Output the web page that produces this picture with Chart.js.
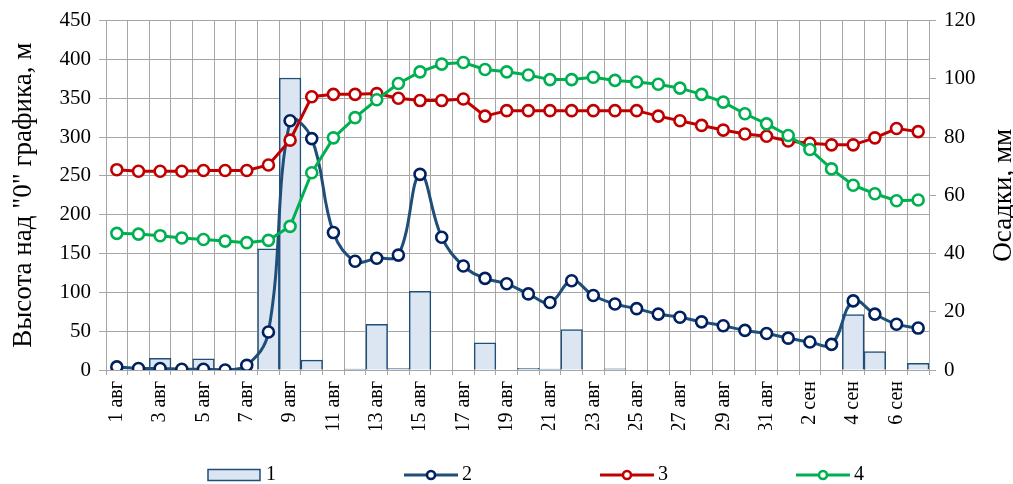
<!DOCTYPE html>
<html lang="ru">
<head>
<meta charset="utf-8">
<script src="https://cdn.jsdelivr.net/npm/chart.js@4"></script>
<style>
body{margin:0;background:#fff}
#wrap{width:1013px;height:484px}
</style>
</head>
<body>
<div id="wrap"><canvas id="chart"></canvas></div>
<script>
const days = ["1 авг","2 авг","3 авг","4 авг","5 авг","6 авг","7 авг","8 авг","9 авг","10 авг",
  "11 авг","12 авг","13 авг","14 авг","15 авг","16 авг","17 авг","18 авг","19 авг","20 авг",
  "21 авг","22 авг","23 авг","24 авг","25 авг","26 авг","27 авг","28 авг","29 авг","30 авг",
  "31 авг","1 сен","2 сен","3 сен","4 сен","5 сен","6 сен","7 сен"]

// 1 - осадки, мм (правая ось)
const rain = [0,0,4,0,3.8,0,0,41.6,100.3,3.4, 0,0.3,15.7,0.5,27,0,0,9.3,0,0.6,
  0.3,13.9,0,0.4,0,0,0,0,0,0, 0, 0,0,0,19,6.3,0,2.3]
// 2, 3, 4 - высота над "0" графика, м (левая ось)
const gauge2 = [4,2,2,1,1,0,6,49,321,298, 177,140,144,148,252,171,134,118,111,98,
  87,115,96,85,79,72,68,62,57,51, 47, 41,36,33,89,72,59,54]
const gauge3 = [258,256,256,256,257,257,257,264,296,352, 355,355,356,350,347,347,349,327,334,334,
  334,334,334,334,334,327,321,315,309,304, 301, 295,292,290,290,299,311,307]
const gauge4 = [176,175,173,170,168,166,164,167,185,254, 299,325,348,369,384,394,396,387,384,380,
  374,374,377,373,371,368,363,355,345,330, 317, 302,284,259,238,227,218,219]

const leftTicks = [0,50,100,150,200,250,300,350,400,450]
const rightTicks = [0,20,40,60,80,100,120]
const legendNames = ["1","2","3","4"]
const leftTitle = 'Высота над "0" графика, м'
const rightTitle = "Осадки, мм"

const FONT = "Liberation Serif, Times New Roman, serif"
const gridColor = "#a6a6a6"

function lineSet(label, data, line, mark, order, tension){
  return {
    type: "line", label, data, yAxisID: "y", order,
    borderColor: line, borderWidth: 3, tension,
    pointRadius: 5.5, pointBorderWidth: 2.6, pointBackgroundColor: "#fff",
    pointBorderColor: mark, pointHoverRadius: 5.5
  }
}

// axis titles (both read bottom to top) and the spread-out legend
const extras = {
  id: "extras",
  afterDraw(chart){
    const ctx = chart.ctx
    const area = chart.chartArea
    const midY = (area.top + area.bottom) / 2
    ctx.save()
    ctx.fillStyle = "#000"
    ctx.font = "27px " + FONT
    ctx.textAlign = "center"
    ctx.textBaseline = "middle"
    ;[[24, leftTitle], [1004, rightTitle]].forEach(([x, t]) => {
      ctx.save()
      ctx.translate(x, midY)
      ctx.rotate(-Math.PI / 2)
      ctx.fillText(t, 0, 0)
      ctx.restore()
    })

    const sets = chart.data.datasets
    const y = 475, step = 196
    let x = 208
    ctx.font = "20px " + FONT
    ctx.textAlign = "left"
    sets.forEach((ds, i) => {
      if (ds.type === "line") {
        ctx.strokeStyle = ds.borderColor
        ctx.lineWidth = 3
        ctx.beginPath(); ctx.moveTo(x, y); ctx.lineTo(x + 54, y); ctx.stroke()
        ctx.beginPath(); ctx.arc(x + 27, y, 4, 0, Math.PI * 2)
        ctx.fillStyle = "#fff"; ctx.fill()
        ctx.strokeStyle = ds.pointBorderColor; ctx.lineWidth = 2.6; ctx.stroke()
      } else {
        ctx.fillStyle = ds.backgroundColor
        ctx.fillRect(x, y - 5.5, 52, 11)
        ctx.strokeStyle = ds.borderColor; ctx.lineWidth = 1.5
        ctx.strokeRect(x, y - 5.5, 52, 11)
      }
      ctx.fillStyle = "#000"
      ctx.fillText(legendNames[i], x + 58, y)
      x += step
    })
    ctx.restore()
  }
}

new Chart(document.getElementById("chart"), {
  type: "bar",
  data: {
    labels: days,
    datasets: [
      { type: "bar", label: "1", data: rain, yAxisID: "y1", order: 10,
        backgroundColor: "#dce6f2", borderColor: "#1f4e79", borderWidth: 1.5,
        barPercentage: 1, categoryPercentage: 1 },
      lineSet("2", gauge2, "#1f4e79", "#002060", 3, 0.4),
      lineSet("3", gauge3, "#c00000", "#c00000", 2, 0),
      lineSet("4", gauge4, "#00b050", "#00b050", 1, 0)
    ]
  },
  options: {
    responsive: true,
    maintainAspectRatio: false,
    animation: false,
    layout: { padding: { top: 19, bottom: 54, left: 0, right: 0 } },
    plugins: { legend: { display: false }, tooltip: { enabled: false } },
    scales: {
      x: {
        offset: true,
        grid: { offset: true, color: gridColor, tickLength: 5 },
        border: { color: gridColor },
        ticks: {
          autoSkip: false, maxRotation: 90, minRotation: 90, padding: 6,
          color: "#000", font: { family: FONT, size: 20 },
          callback: (v, i) => i % 2 === 0 ? days[i] : ""
        },
        afterFit: s => { s.height = 60 }
      },
      y: {
        position: "left", min: 0, max: 450,
        afterBuildTicks: s => { s.ticks = leftTicks.map(v => ({ value: v })) },
        grid: { color: gridColor, tickLength: 7 },
        border: { color: gridColor },
        ticks: { color: "#000", padding: 8, font: { family: FONT, size: 21 } },
        afterFit: s => { s.width = 106 }
      },
      y1: {
        position: "right", min: 0, max: 120,
        afterBuildTicks: s => { s.ticks = rightTicks.map(v => ({ value: v })) },
        grid: { drawOnChartArea: false, color: gridColor, tickLength: 7 },
        border: { color: gridColor },
        ticks: { color: "#000", padding: 8, font: { family: FONT, size: 21 } },
        afterFit: s => { s.width = 84 }
      }
    }
  },
  plugins: [extras]
})
</script>
</body>
</html>
